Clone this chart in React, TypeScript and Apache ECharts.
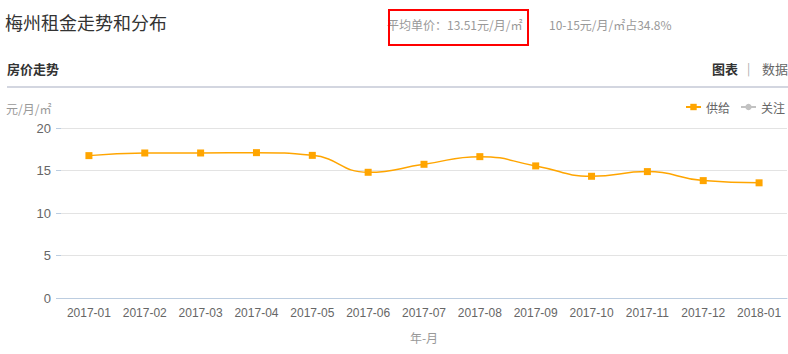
import React, { useEffect, useRef } from "react";
import * as echarts from "echarts";

const months = ["2017-01", "2017-02", "2017-03", "2017-04", "2017-05", "2017-06", "2017-07", "2017-08", "2017-09", "2017-10", "2017-11", "2017-12", "2018-01"];
const supply = [16.75, 17.06, 17.06, 17.1, 16.78, 14.79, 15.73, 16.63, 15.54, 14.32, 14.87, 13.81, 13.55];
const attention: number[] = [];
const yTicks = { min: 0, max: 20, interval: 5 };

const CJK = "'Microsoft YaHei', 'Noto Sans CJK SC', sans-serif";
const NUM = "Arial, 'Liberation Sans', 'Noto Sans CJK SC', sans-serif";

export default function App() {
  const ref = useRef<HTMLDivElement>(null);
  useEffect(() => {
    const chart = echarts.init(ref.current!, null, { renderer: "svg" });
    chart.setOption({
      animation: false,
      backgroundColor: "#fff",
      graphic: [
        { type: "text", left: 5, top: 13, style: { text: "梅州租金走势和分布", fontSize: 18, fill: "#333", fontFamily: CJK } },
        { type: "text", left: 387, top: 18, style: { text: "平均单价：13.51元/月/㎡", fontSize: 12, fill: "#999", fontFamily: CJK } },
        { type: "rect", shape: { x: 389, y: 10, width: 139, height: 35 }, style: { fill: "none", stroke: "#f00", lineWidth: 2 } },
        { type: "text", left: 549, top: 18, style: { text: "10-15元/月/㎡占34.8%", fontSize: 12, fill: "#999", fontFamily: CJK } },
        { type: "text", left: 7, top: 62, style: { text: "房价走势", fontSize: 13, fontWeight: "bold", fill: "#333", fontFamily: CJK } },
        { type: "text", left: 712, top: 62, style: { text: "图表", fontSize: 13, fontWeight: "bold", fill: "#333", fontFamily: CJK } },
        { type: "text", left: 747, top: 61, style: { text: "|", fontSize: 12, fill: "#aaa", fontFamily: CJK } },
        { type: "text", left: 762, top: 62, style: { text: "数据", fontSize: 13, fill: "#666", fontFamily: CJK } },
        { type: "rect", shape: { x: 7, y: 86, width: 781, height: 2 }, style: { fill: "#d3d6e0" } },
      ],
      legend: {
        right: 3,
        top: 101,
        padding: 0,
        itemWidth: 15,
        itemHeight: 8,
        itemGap: 10,
        textStyle: { fontSize: 12, color: "#666", fontFamily: CJK },
        data: ["供给", "关注"],
      },
      grid: { left: 61, right: 1, top: 128, bottom: 56 },
      xAxis: {
        type: "category",
        data: months,
        boundaryGap: true,
        name: "年-月",
        nameLocation: "middle",
        nameGap: 33,
        nameTextStyle: { color: "#999", fontSize: 12, fontFamily: CJK },
        axisLine: { lineStyle: { color: "#bccde0" } },
        axisTick: { alignWithLabel: true, length: 4, lineStyle: { color: "#bccde0" } },
        axisLabel: { color: "#666", fontSize: 12, margin: 9, fontFamily: NUM, interval: 0 },
      },
      yAxis: {
        type: "value",
        min: yTicks.min,
        max: yTicks.max,
        interval: yTicks.interval,
        name: "元/月/㎡",
        nameLocation: "end",
        nameGap: 14,
        nameTextStyle: { color: "#999", fontSize: 12, fontFamily: CJK, align: "left", padding: [0, 0, 0, -55] },
        axisLine: { show: false },
        axisTick: { show: true, length: 5, lineStyle: { color: "#bccde0" } },
        axisLabel: { color: "#666", fontSize: 13, margin: 10, fontFamily: NUM },
        splitLine: { lineStyle: { color: "#e3e3e3" } },
      },
      series: [
        {
          name: "供给",
          type: "line",
          data: supply,
          smooth: true,
          symbol: "rect",
          symbolSize: 7,
          itemStyle: { color: "#ffa500" },
          lineStyle: { color: "#ffa500", width: 1.5 },
        },
        {
          name: "关注",
          type: "line",
          data: attention,
          smooth: true,
          symbol: "circle",
          symbolSize: 7,
          itemStyle: { color: "#c2c2c2" },
          lineStyle: { color: "#c2c2c2", width: 1.5 },
        },
      ],
    });
    return () => chart.dispose();
  }, []);
  return <div ref={ref} style={{ position: "fixed", left: 0, top: 0, width: 788, height: 354 }} />;
}
